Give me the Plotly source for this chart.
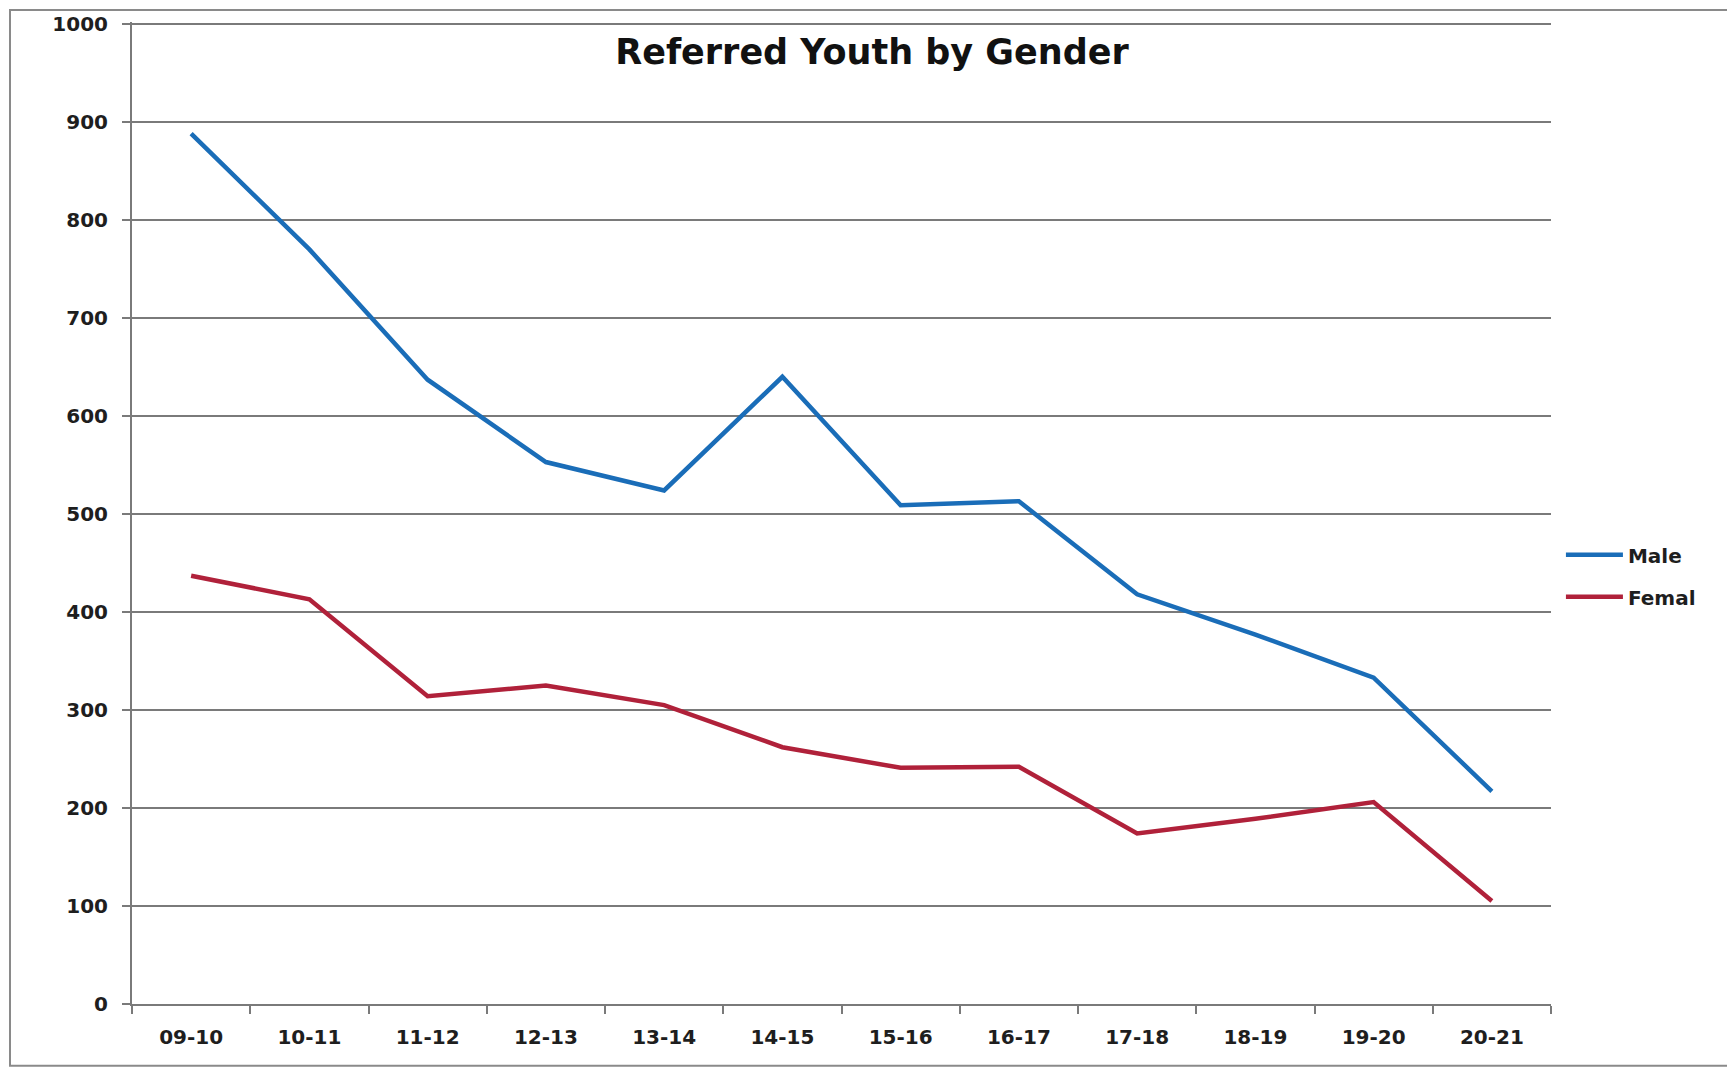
import plotly.graph_objects as go

# School years on the category axis
years = ["09-10", "10-11", "11-12", "12-13", "13-14", "14-15",
         "15-16", "16-17", "17-18", "18-19", "19-20", "20-21"]

# Referred youth counts per year
male = [888, 770, 637, 553, 524, 640, 509, 513, 418, 377, 333, 217]
female = [437, 413, 314, 325, 305, 262, 241, 242, 174, 189, 206, 105]

series_names = ["Male", "Femal"]
series_colors = ["#1a6db8", "#b0213a"]

y_ticks = list(range(0, 1001, 100))

fig = go.Figure()
for name, vals, color in zip(series_names, [male, female], series_colors):
    fig.add_trace(go.Scatter(
        x=years, y=vals, name=name, mode="lines",
        line=dict(color=color, width=4.5),
        legendgroup=name,
    ))

axis_font = dict(family="DejaVu Sans", size=20, color="#1e1e1e", weight="bold")

L, R, T, B = 132, 176, 19, 65
plot_w = 1727 - L - R
plot_h = 1069 - T - B

fig.update_layout(
    width=1727, height=1069,
    paper_bgcolor="white", plot_bgcolor="white",
    margin=dict(l=L, r=R, t=T, b=B),
    title=dict(
        text="<b>Referred Youth by Gender</b>",
        font=dict(family="DejaVu Sans", size=35, color="#111111"),
        x=872 / 1727, xanchor="center",
        y=1 - 52 / 1069, yanchor="middle",
    ),
    showlegend=True,
    legend=dict(
        x=1.007, xanchor="left", y=0.436, yanchor="middle",
        font=dict(family="DejaVu Sans", size=20, color="#1e1e1e", weight="bold"),
        bgcolor="rgba(0,0,0,0)", borderwidth=0,
        traceorder="grouped", tracegroupgap=13,
        itemwidth=57,
    ),
    xaxis=dict(
        type="category",
        range=[-0.5, len(years) - 0.5],
        showgrid=False,
        showline=True, linecolor="#7a7a7a", linewidth=2,
        ticks="outside", tickson="boundaries", ticklen=8,
        tickcolor="#7a7a7a", tickwidth=2,
        tickfont=axis_font,
        ticklabelstandoff=14,
        fixedrange=True,
    ),
    yaxis=dict(
        # a little headroom so the 1000 gridline is drawn inside the plot
        range=[0, 1002],
        tickvals=y_ticks,
        showgrid=True, gridcolor="#7a7a7a", gridwidth=2,
        zeroline=False,
        showline=True, linecolor="#7a7a7a", linewidth=2,
        ticks="outside", ticklen=8, tickcolor="#7a7a7a", tickwidth=2,
        tickfont=axis_font,
        ticklabelstandoff=10,
        fixedrange=True,
    ),
)

# Outer frame around the chart area
fig.add_shape(
    type="rect", xref="paper", yref="paper",
    x0=(10 - L) / plot_w, x1=(1760 - L) / plot_w,
    y0=(1069 - B - 1066) / plot_h, y1=(1069 - B - 7) / plot_h,
    line=dict(color="#8a8a8a", width=2), layer="below",
)

fig.write_html("out.html")
